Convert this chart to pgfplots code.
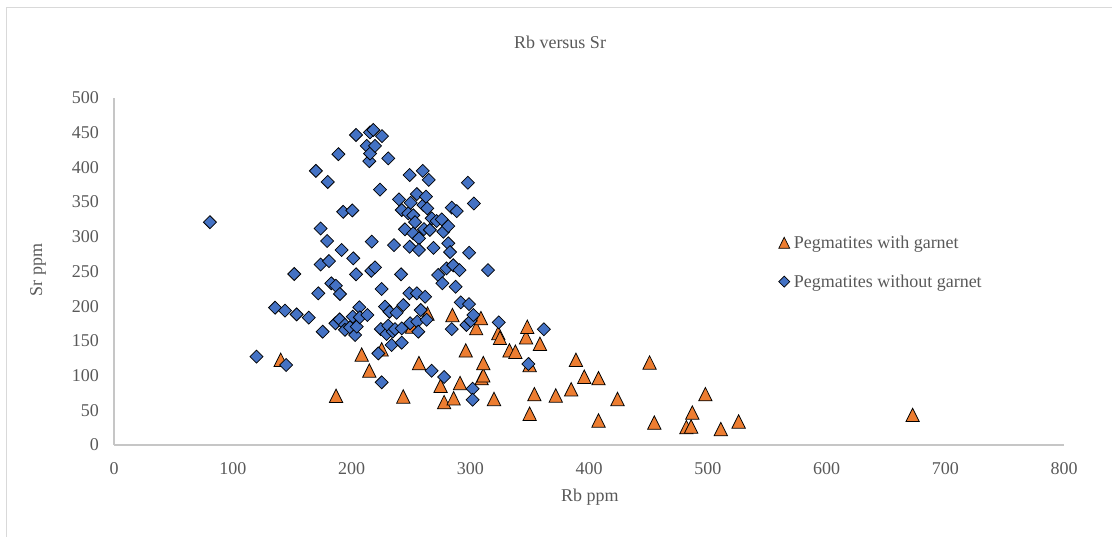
\documentclass[border=0pt]{standalone}
\usepackage{pgfplots}
\pgfplotsset{compat=1.18}
\usepackage{fontspec}
\setmainfont{Liberation Serif}
\definecolor{txtgray}{HTML}{595959}
\definecolor{axgray}{HTML}{C6C6C6}
\definecolor{framegray}{HTML}{D9D9D9}
\definecolor{orangeM}{HTML}{ED7D31}
\definecolor{blueM}{HTML}{4472C4}
\newcommand{\chartfont}{\fontsize{18}{21}\selectfont}
\begin{document}
\begin{tikzpicture}[x=1pt,y=1pt]
\useasboundingbox (0,0) rectangle (1112,537);
\draw[framegray, line width=1pt] (6,-5) -- (6,529) -- (1120,529);
\node[text=txtgray, font=\chartfont] at (560,495) {Rb versus Sr};
\begin{axis}[
  at={(114pt,92pt)}, anchor=south west, scale only axis,
  width=950pt, height=347pt,
  xmin=0, xmax=800, ymin=0, ymax=500,
  axis x line*=bottom, axis y line*=left,
  axis line style={axgray, line width=1.2pt, -},
  xtick={0,100,...,800}, ytick={0,50,...,500},
  major tick length=0pt,
  tick label style={text=txtgray, font=\chartfont, inner sep=0pt},
  /pgf/number format/assume math mode=true,
  xticklabel style={anchor=north, yshift=-17pt},
  yticklabel style={anchor=east, xshift=-15pt},
  xlabel={Rb ppm}, ylabel={Sr ppm},
  xlabel style={at={(axis description cs:0.501,-0.15)}, anchor=center, text=txtgray, font=\chartfont},
  ylabel style={at={(axis description cs:-0.08,0.504)}, anchor=center, text=txtgray, font=\chartfont},
  legend style={at={(axis description cs:0.6995,0.527)}, anchor=west, draw=none, fill=none,
    font=\chartfont, text=txtgray, inner sep=0pt, row sep=25pt, column sep=4pt, nodes={inner sep=0pt}},
  legend cell align=left,
  legend image code/.code={\draw[#1] plot coordinates {(0pt,0pt)};},
]
\addplot[only marks, mark=triangle*, mark size=7.7pt,
  mark options={yshift=-2pt, yscale=1.16, fill=orangeM, draw=black, line width=0.75pt},
  legend image post style={mark size=6.3pt}] coordinates {
(140.4,122.5) (187,70.6) (208.6,130) (215,107) (225.4,137.5) (243.6,69.6)
(251,170.5) (256.8,117.7) (264,189) (275,85) (278,61.5) (285,187) (286,67)
(291.4,89) (296.2,136) (305,168) (309,182.5) (309.6,96) (311,100) (311,117.7)
(320,66) (323.6,161) (325,154) (333,136) (338,134) (347,155) (348,170) (350,115)
(350,44.7) (354,73) (358.7,145.5) (372,71) (385,80) (389,122.5) (396,98) (408,96)
(408,35) (424,66) (451,118.6) (455,32) (482,25.5) (486,26.4) (487,46.5) (498,73)
(511,22.6) (526,33.6) (672.5,43)
};
\addlegendentry{Pegmatites with garnet}
\addplot[only marks, mark=square*, mark size=4.6pt,
  mark options={rotate=45, fill=blueM, draw=black, line width=0.75pt},
  legend image post style={mark size=3.9pt}] coordinates {
(80.8,321) (120,127.3) (135.6,197.8) (144,193.5) (145,115.3) (151.8,246.4)
(153.8,188.2) (164,183.5) (170,395) (172,218.6) (174,260) (181,265) (174,312)
(175.7,163.3) (179.5,294) (180,379) (183,233) (186.8,229.5) (186.5,175.4)
(189,419) (190.3,217.6) (190,181) (191.7,281) (193,336) (194.5,173) (194.5,166)
(198.7,169.6) (200.7,338) (201,185) (201.5,269) (203,158.5) (203.8,246)
(203.8,446.7) (204.4,170.5) (206.6,198.4) (207,184) (212.8,431) (213.3,187.3)
(215,409) (215.6,420) (215.6,450.5) (216.7,251) (217,293) (218.4,454) (219.8,256)
(219.8,431) (222.6,132) (224,368) (224.7,167) (225.4,90.3) (225.4,224.8)
(225.7,445) (228.2,199.3) (229.6,160) (231,413) (231,172) (232,192) (233.8,144)
(234.7,163.3) (235.8,288) (236.6,167) (238,190.6) (240,354) (241.7,246)
(242.3,338.6) (242.3,168) (242.3,147.4) (243.6,201.7) (245,310.8) (247.8,333.8)
(248.7,218.6) (249,389) (249,285.7) (249.3,175.4) (249.8,349) (252,331) (252,305)
(253.5,321) (255,361.6) (255,218.6) (255.4,177.7) (256.8,297.8) (256.8,281)
(256.3,163.3) (258.3,194.5) (260,395) (260.5,345.8) (261,311) (262,213.7)
(262.7,357.8) (263.3,180.5) (263.8,341) (265,382) (266,310) (267.5,326.6)
(267.5,107) (269,284) (271.7,322.8) (273,245) (276,325) (276.5,233) (277.3,307.3)
(278,98) (280,254.6) (281.5,315.4) (281.5,290.6) (283,278) (284.4,342) (284.4,167)
(285.7,259) (287.7,228) (288.6,337) (291,252) (292,205.6) (296.8,173) (298,378)
(299,277) (299,203) (300.4,178.7) (302.6,187.3) (302,81) (302,65.3) (303,348)
(315,252) (324,176.8) (349,116.7) (362,166.7)
};
\addlegendentry{Pegmatites without garnet}
\end{axis}
\end{tikzpicture}
\end{document}
